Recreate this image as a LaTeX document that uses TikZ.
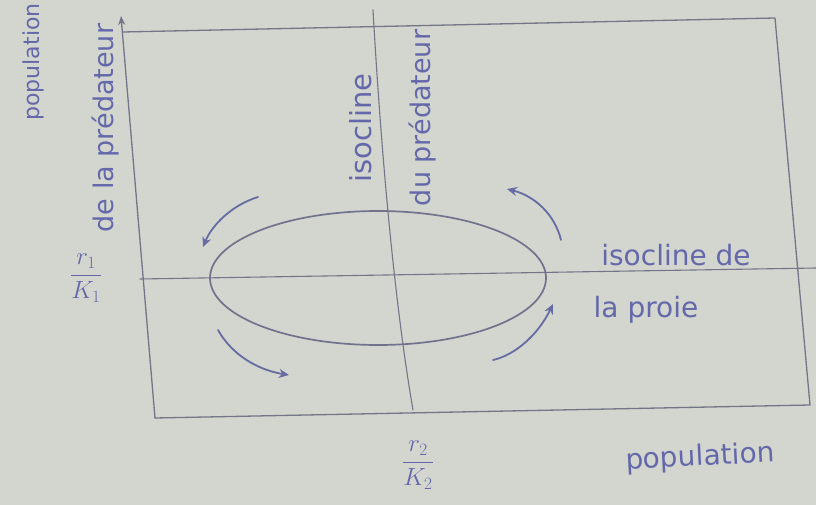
\documentclass[tikz,border=0pt]{standalone}
\usepackage{amsmath}
\usepackage{fontspec}
\setmainfont{DejaVu Sans}
\usetikzlibrary{arrows.meta}
\definecolor{paper}{RGB}{210,214,206}
\definecolor{pencil}{RGB}{115,117,136}
\definecolor{ink}{RGB}{100,104,170}
\begin{document}
\begin{tikzpicture}[x=1pt,y=-1pt, line cap=round, line join=round,
  axis/.style={draw=pencil, line width=1.3pt},
  orbit/.style={draw=pencil!85!ink, line width=1.7pt},
  flow/.style={draw=ink!80!pencil, line width=1.8pt, -{Stealth[length=10pt,width=9pt]}},
  lbl/.style={text=ink, inner sep=0pt, font=\fontsize{28}{30}\selectfont}]
\fill[paper] (0,0) rectangle (816,505);
\useasboundingbox (0,0) rectangle (816,505);
% frame and axes
\coordinate (BL) at (155,418);
\coordinate (TLarrow) at (121,16);
\coordinate (TL) at (123,32);
\coordinate (TR) at (775,18);
\coordinate (BR) at (810,405);
\draw[axis, -{Stealth[length=9pt,width=7pt]}] (BL) -- (TLarrow);
\draw[axis] (TL) -- (TR) -- (BR) -- (BL);
% isoclines
\coordinate (hA) at (140,279);
\coordinate (hB) at (816,268);
\draw[axis, line width=1.1pt] (hA) -- (hB);
\coordinate (vA) at (373,10);
\coordinate (vB) at (413,410);
\draw[axis, line width=1.1pt] (vA) .. controls (381,150) and (394,300) .. (vB);
% closed orbit
\coordinate (C) at (378,278);
\draw[orbit] (C) ellipse [x radius=168, y radius=67];
% flow arrows
\coordinate (a1s) at (258,197); \coordinate (a1e) at (203,247);
\coordinate (a2s) at (218,330); \coordinate (a2e) at (289,375);
\coordinate (a3s) at (493,360); \coordinate (a3e) at (553,304);
\coordinate (a4s) at (561,240); \coordinate (a4e) at (507,189);
\draw[flow] (a1s) .. controls (232,205) and (212,225) .. (a1e);
\draw[flow] (a2s) .. controls (232,355) and (258,370) .. (a2e);
\draw[flow] (a3s) .. controls (515,355) and (538,335) .. (a3e);
\draw[flow] (a4s) .. controls (555,215) and (535,196) .. (a4e);
% labels
\node[lbl, rotate=90, font=\fontsize{22}{24}\selectfont] (yl1) at (33,62) {population};
\node[lbl, rotate=90, font=\fontsize{27}{29}\selectfont] (yl2) at (106,128) {de la prédateur};
\node[lbl, rotate=90, font=\fontsize{29}{31}\selectfont] (v1) at (361,128) {isocline};
\node[lbl, rotate=90, font=\fontsize{27}{29}\selectfont] (v2) at (423,118) {du prédateur};
\node[lbl] (h1) at (676,255) {isocline de};
\node[lbl] (h2) at (646,310) {la proie};
\node[lbl, rotate=3] (xl) at (700,458) {population};
\node[lbl, font=\fontsize{26}{28}\selectfont] (f1) at (86,278) {$\dfrac{r_1}{K_1}$};
\node[lbl, font=\fontsize{26}{28}\selectfont] (f2) at (418,465) {$\dfrac{r_2}{K_2}$};
\end{tikzpicture}
\end{document}
